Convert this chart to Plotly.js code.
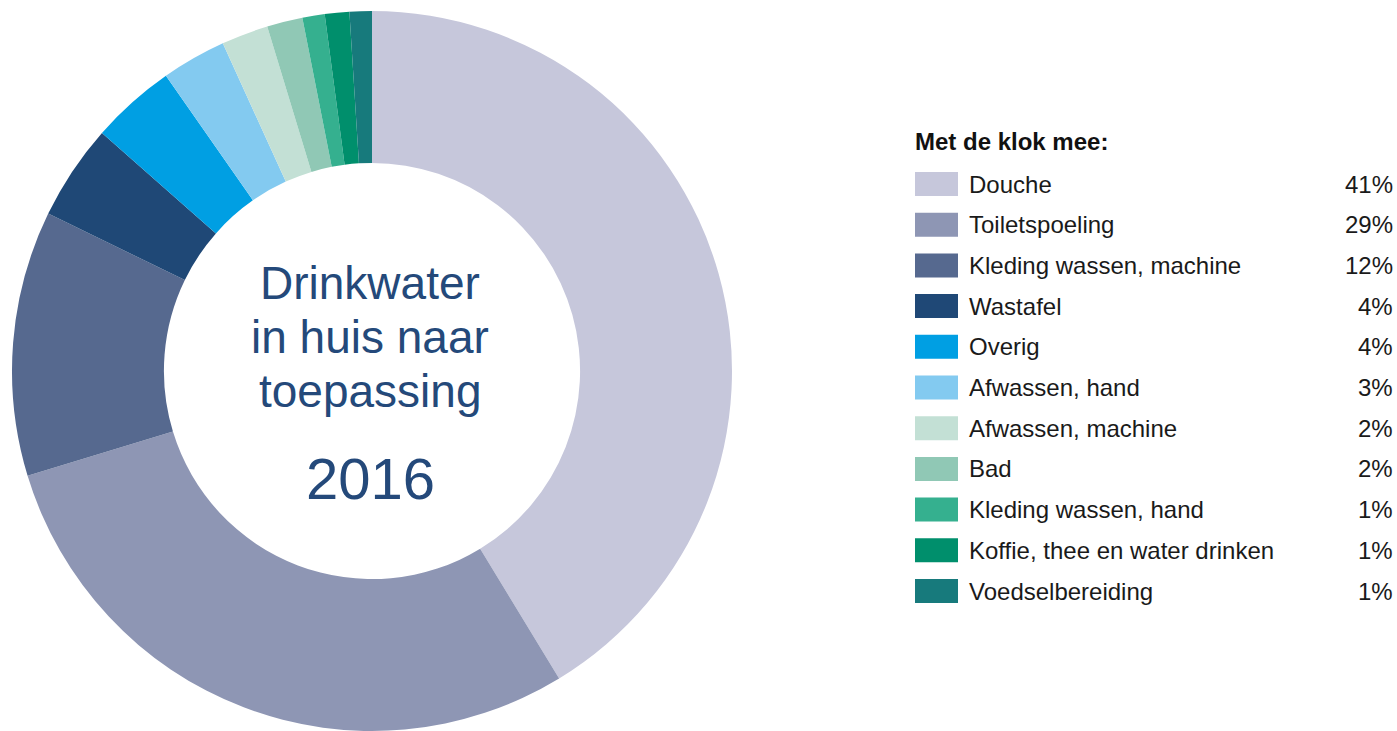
<!DOCTYPE html>
<html>
<head>
<meta charset="utf-8">
<script src="https://cdn.plot.ly/plotly-3.0.1.min.js"></script>
<style>html,body{margin:0;padding:0;background:#fff;}#chart{width:1397px;height:731px;}</style>
</head>
<body>
<div id="chart"></div>
<script>
const categories = ["Douche","Toiletspoeling","Kleding wassen, machine","Wastafel","Overig","Afwassen, hand","Afwassen, machine","Bad","Kleding wassen, hand","Koffie, thee en water drinken","Voedselbereiding"];
const shares = [41.3, 29.0, 11.9, 4.3, 3.8, 2.9, 2.1, 1.6, 1.0, 1.1, 1.0];
const colors = ["#c6c7db","#8e96b4","#56698f","#1f4876","#009fe3","#83caf0","#c3e0d5","#90c8b5","#35b08f","#008f6c","#177a7c"];
const centerLines = ["Drinkwater","in huis naar","toepassing"];
const yearLabel = "2016";
const legendTitle = "Met de klok mee:";

const W = 1397, H = 731;
const px = x => x / W;
const py = y => 1 - y / H;

const FONT = "Liberation Sans, Arial, sans-serif";
const annotations = [];
const shapes = [];

// center text
const centerYs = [283, 337, 391];
centerLines.forEach((t, i) => {
  annotations.push({xref:'paper', yref:'paper', x:px(370), y:py(centerYs[i]), text:t, showarrow:false,
    xanchor:'center', yanchor:'middle', font:{family:FONT, size:46, color:'#24497a'}});
});
annotations.push({xref:'paper', yref:'paper', x:px(370), y:py(479), text:yearLabel, showarrow:false,
  xanchor:'center', yanchor:'middle', font:{family:FONT, size:58, color:'#24497a'}});

// legend
annotations.push({xref:'paper', yref:'paper', x:px(913), y:py(141), text:'<b>'+legendTitle+'</b>', showarrow:false,
  xanchor:'left', yanchor:'middle', font:{family:FONT, size:24, color:'#111'}});
const row0 = 184, rowStep = 40.7;
categories.forEach((c, i) => {
  const yc = row0 + i * rowStep;
  shapes.push({type:'rect', xref:'paper', yref:'paper', x0:px(915), x1:px(958), y0:py(yc-12), y1:py(yc+12),
    fillcolor:colors[i], line:{width:0}});
  annotations.push({xref:'paper', yref:'paper', x:px(967), y:py(yc), text:c, showarrow:false,
    xanchor:'left', yanchor:'middle', font:{family:FONT, size:24, color:'#1a1a1a'}});
  annotations.push({xref:'paper', yref:'paper', x:px(1395), y:py(yc), text:Math.round(shares[i]) + '%', showarrow:false,
    xanchor:'right', yanchor:'middle', font:{family:FONT, size:24, color:'#1a1a1a'}});
});

const trace = {
  type:'pie', labels:categories, values:shares, hole:0.578, sort:false, direction:'clockwise', rotation:0,
  marker:{colors:colors, line:{width:0}}, textinfo:'none', showlegend:false,
  domain:{x:[px(12), px(732)], y:[0.0, 0.985]}
};

Plotly.newPlot('chart', [trace], {
  width:W, height:H, margin:{l:0,r:0,t:0,b:0}, paper_bgcolor:'#fff', plot_bgcolor:'#fff',
  showlegend:false, annotations:annotations, shapes:shapes
}, {displayModeBar:false, staticPlot:true});
</script>
</body>
</html>
